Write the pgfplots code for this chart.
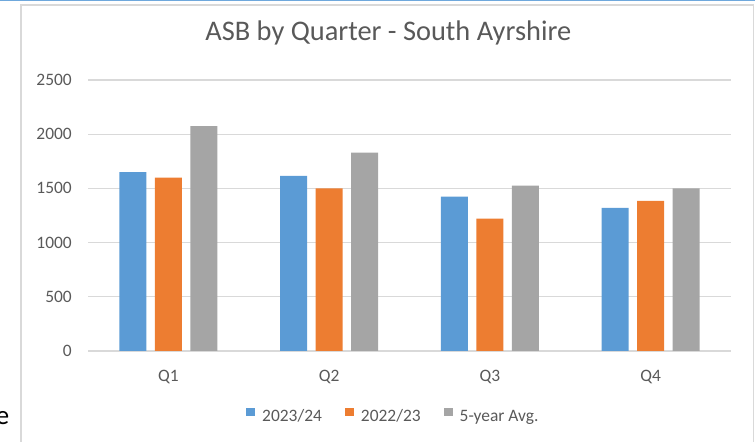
\documentclass[border=0pt]{standalone}
\usepackage{pgfplots}
\pgfplotsset{compat=1.18}
\usepackage{fontspec}
\setmainfont{Carlito}
\definecolor{cblue}{HTML}{5B9BD5}
\definecolor{corange}{HTML}{ED7D31}
\definecolor{cgray}{HTML}{A5A5A5}
\definecolor{gridc}{HTML}{D9D9D9}
\definecolor{txt}{HTML}{595959}
\definecolor{framec}{HTML}{D9D9D9}
\definecolor{selblue}{HTML}{6FA8DC}
\begin{document}
\begin{tikzpicture}[x=1bp,y=1bp]
\useasboundingbox (0,0) rectangle (755,442);
\begin{scope}
\clip (0,0) rectangle (755,442);
\draw[framec, line width=1.5bp] (21,-10) -- (21,437) -- (753.5,437) -- (753.5,-10);
\draw[selblue, line width=1.5bp] (0,441.5) -- (755,441.5);
\node[anchor=base east, inner sep=0pt, font=\fontsize{27}{30}\selectfont] at (9.5,17) {e};
\end{scope}
\begin{axis}[
  at={(88bp,91bp)}, anchor=south west,
  scale only axis, width=643bp, height=271bp,
  xmin=-0.5, xmax=3.5, ymin=0, ymax=2500,
  ybar=8.5bp, bar width=27bp,
  xtick={0,1,2,3}, xticklabels={Q1,Q2,Q3,Q4},
  ytick={0,500,1000,1500,2000,2500},
  ymajorgrids, grid style={draw=gridc, line width=1.3bp},
  axis line style={draw=none}, major tick length=0pt,
  tick label style={font=\fontsize{17.5}{20}\selectfont, text=txt},
  /pgf/number format/assume math mode=true,
  /pgf/number format/1000 sep={},
  yticklabel style={inner sep=0pt, anchor=east, xshift=-16bp},
  xticklabel style={inner sep=0pt, anchor=north, yshift=-19bp},
  title={ASB by Quarter - South Ayrshire},
  title style={at={(0.467,1.1229)}, anchor=base, inner sep=0pt, font=\fontsize{28.5}{32}\selectfont, text=txt},
  legend columns=3,
  legend image code/.code={\fill[#1, draw=none] (0bp,0bp) rectangle (9bp,8.5bp);},
  legend style={at={(0.2457,-0.238)}, anchor=west, draw=none, fill=none, inner sep=0pt,
    font=\fontsize{17.5}{20}\selectfont, text=txt,
    nodes={inner sep=0pt},
    /tikz/every odd column/.append style={column sep=7bp},
    /tikz/every even column/.append style={column sep=23bp}},
]
\addplot[fill=cblue, draw=none] coordinates {(0,1650) (1,1615) (2,1425) (3,1320)};
\addplot[fill=corange, draw=none] coordinates {(0,1600) (1,1500) (2,1220) (3,1385)};
\addplot[fill=cgray, draw=none] coordinates {(0,2075) (1,1830) (2,1525) (3,1500)};
\legend{2023/24, 2022/23, 5-year Avg.}
\end{axis}
\end{tikzpicture}
\end{document}
